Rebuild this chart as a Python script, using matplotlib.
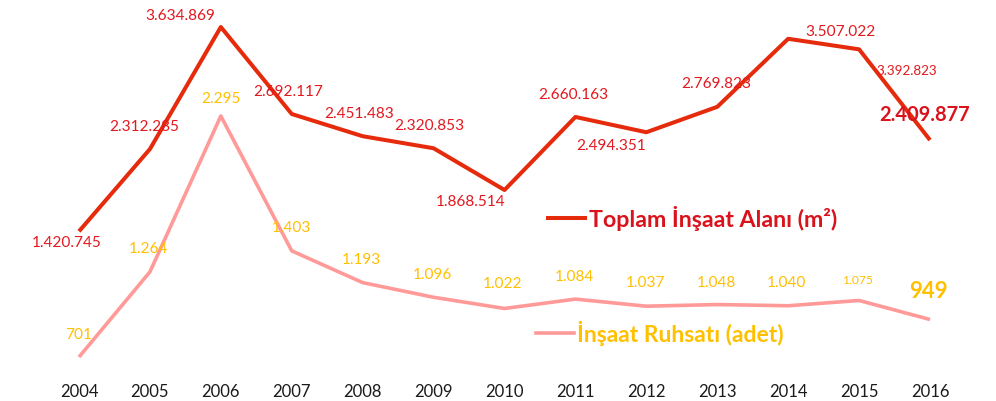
import matplotlib
matplotlib.use("Agg")
import matplotlib.pyplot as plt
from matplotlib.lines import Line2D

plt.rcParams['font.family'] = ['Lato', 'DejaVu Sans']

years = ['2004', '2005', '2006', '2007', '2008', '2009', '2010',
         '2011', '2012', '2013', '2014', '2015', '2016']
alan = [1420745, 2312285, 3634869, 2692117, 2451483, 2320853, 1868514,
        2660163, 2494351, 2769823, 3507022, 3392823, 2409877]
ruhsat = [701, 1264, 2295, 1403, 1193, 1096, 1022,
          1084, 1037, 1048, 1040, 1075, 949]

def tr(v):
    return f"{v:,}".replace(",", ".")

RED_LINE = '#E62A0C'
RED_TXT = '#E3191F'
RED_BOLD = '#D9121C'
PINK = '#FF9A98'
GOLD = '#FFC000'

# label offsets in pixels (dx right, dy up)
alan_off = [(-12, -12), (-6, 22), (-41, 11), (-4, 22), (-4, 22), (-4, 22), (-34, -12),
            (-2, 22), (-35, -14), (-1, 23), (52, 7), (48, -22), (-5, 25)]
ruhsat_off = [(0, 22), (-1, 23), (0, 17), (0, 23), (-1, 23), (-1, 22), (-2, 24),
              (-1, 22), (-1, 23), (-1, 22), (-2, 23), (-2, 20), (-2, 28)]

fig = plt.figure(figsize=(9.96, 4.01), dpi=100)
ax = fig.add_axes([0, 1 - 380 / 401, 1, 380 / 401])
ax2 = ax.twinx()

x = list(range(len(years)))
ax.plot(x, alan, color=RED_LINE, lw=2.9, solid_capstyle='butt', zorder=3)
ax2.plot(x, ruhsat, color=PINK, lw=2.6, solid_capstyle='butt', zorder=2)

ax.set_xlim(-79 / 70.92, 12 + 66 / 70.92)
ax.set_ylim(-190436, 3927464)
ax2.set_ylim(549, 3062)

for a in (ax, ax2):
    for s in a.spines.values():
        s.set_visible(False)
    a.set_yticks([])
ax.set_xticks(x)
ax.set_xticklabels(years, fontsize=12, color='#1a1a1a')
ax.tick_params(axis='x', length=0, pad=3.2)

last = len(years) - 1
for i, v in enumerate(alan):
    dx, dy = alan_off[i]
    if i == last:
        kw = dict(fontsize=14.5, fontweight='bold', color=RED_BOLD)
    elif i == last - 1:
        kw = dict(fontsize=9.7, color=RED_TXT)
    else:
        kw = dict(fontsize=11.1, color=RED_TXT)
    ax.annotate(tr(v), (i, v), xytext=(dx, dy), textcoords='offset pixels',
                ha='center', va='center', **kw)

for i, v in enumerate(ruhsat):
    dx, dy = ruhsat_off[i]
    if i == last:
        kw = dict(fontsize=16, fontweight='bold', color=GOLD)
    elif i == last - 1:
        kw = dict(fontsize=8.7, color=GOLD)
    else:
        kw = dict(fontsize=11.1, color=GOLD)
    ax2.annotate(tr(v), (i, v), xytext=(dx, dy), textcoords='offset pixels',
                 ha='center', va='center', **kw)

# custom legend entries
fig.add_artist(Line2D([548 / 996, 585 / 996], [1 - 218 / 401] * 2,
                      color=RED_LINE, lw=2.9, transform=fig.transFigure))
fig.text(589 / 996, 1 - 219 / 401, 'Toplam İnşaat Alanı (m²)', color=RED_BOLD,
         fontsize=16.7, fontweight='bold', ha='left', va='center')
fig.add_artist(Line2D([536 / 996, 574 / 996], [1 - 333 / 401] * 2,
                      color=PINK, lw=2.6, transform=fig.transFigure))
fig.text(577 / 996, 1 - 334 / 401, 'İnşaat Ruhsatı (adet)', color=GOLD,
         fontsize=16.5, fontweight='bold', ha='left', va='center')

fig.savefig('out.png', dpi=100)
